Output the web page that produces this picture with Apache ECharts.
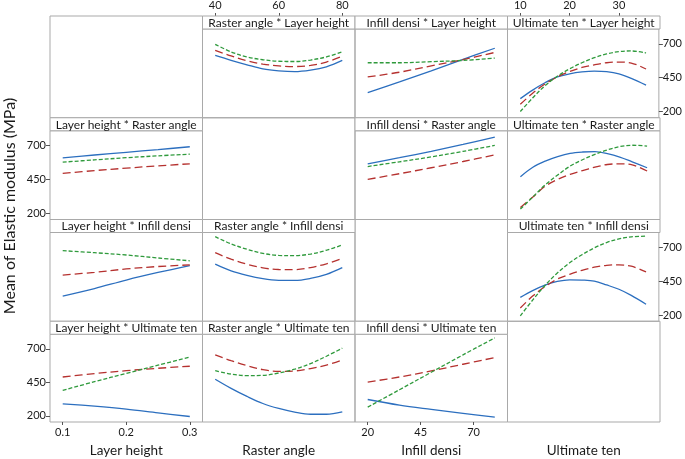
<!DOCTYPE html>
<html>
<head>
<meta charset="utf-8">
<script src="https://cdn.jsdelivr.net/npm/echarts@6/dist/echarts.min.js"></script>
<style>html,body{margin:0;padding:0;background:#fff;}#c{width:685px;height:459px;}</style>
</head>
<body>
<div id="c"></div>
<script>
// ---------- factors & ticks ----------
const factors = ['Layer height', 'Raster angle', 'Infill densi', 'Ultimate ten'];
const xRanges = [[0.08, 0.32], [36, 84], [14, 86], [7.4, 38.1]];
const xTickLayer = [0.1, 0.2, 0.3];
const xTickRaster = [40, 60, 80];
const xTickInfill = [20, 45, 70];
const xTickUlt = [10, 20, 30];
const yTicks = [200, 450, 700];
const yRange = [154, 809];

// ---------- x values of each factor ----------
const layerX = [0.1, 0.15, 0.2, 0.25, 0.3];
const rasterX = [40, 45, 50, 55, 60, 65, 70, 75, 80];
const infillX = [20, 35, 50, 65, 80];
const ultX = [10, 12.5, 15, 17.5, 20, 22.5, 25, 27.5, 30, 32.5, 35.5];

// ---------- row 1: trace = Layer height ----------
const rasLay1 = [614, 578, 545, 515, 500, 494, 505, 530, 577];
const rasLay2 = [652, 610, 575, 550, 537, 532, 540, 565, 609];
const rasLay3 = [696, 640, 603, 582, 571, 569, 580, 603, 640];
const infLay1 = [339, 418, 500, 585, 667];
const infLay2 = [455, 490, 537, 583, 636];
const infLay3 = [560, 560, 568, 577, 594];
const ultLay1 = [295, 358, 412, 455, 478, 492, 498, 494, 478, 445, 395];
const ultLay2 = [253, 335, 403, 455, 495, 525, 545, 560, 565, 558, 514];
const ultLay3 = [200, 300, 390, 460, 515, 560, 597, 625, 642, 647, 632];

// ---------- row 2: trace = Raster angle ----------
const layRas1 = [609, 630, 650, 670, 691];
const layRas2 = [494, 515, 533, 550, 565];
const layRas3 = [577, 594, 610, 624, 636];
const infRas1 = [565, 610, 657, 708, 762];
const infRas2 = [450, 492, 536, 582, 631];
const infRas3 = [545, 580, 616, 657, 701];
const ultRas1 = [470, 540, 585, 618, 642, 652, 655, 640, 615, 580, 536];
const ultRas2 = [243, 320, 400, 450, 487, 515, 540, 560, 565, 558, 512];
const ultRas3 = [231, 320, 410, 482, 548, 595, 635, 668, 692, 702, 696];

// ---------- row 3: trace = Infill densi ----------
const layInf1 = [340, 395, 458, 514, 565];
const layInf2 = [495, 515, 540, 558, 570];
const layInf3 = [675, 660, 643, 621, 600];
const rasInf1 = [575, 525, 492, 468, 456, 455, 470, 500, 550];
const rasInf2 = [660, 612, 575, 548, 536, 535, 550, 578, 617];
const rasInf3 = [778, 725, 685, 655, 640, 638, 650, 678, 717];
const ultInf1 = [330, 380, 420, 448, 460, 458, 450, 422, 390, 345, 280];
const ultInf2 = [252, 340, 410, 465, 500, 530, 553, 567, 570, 560, 518];
const ultInf3 = [194, 310, 418, 510, 585, 645, 695, 735, 762, 777, 782];

// ---------- row 4: trace = Ultimate ten ----------
const layUlt1 = [290, 272, 250, 222, 195];
const layUlt2 = [490, 515, 537, 555, 570];
const layUlt3 = [390, 455, 517, 578, 638];
const rasUlt1 = [473, 405, 345, 292, 255, 228, 212, 212, 230];
const rasUlt2 = [655, 612, 575, 545, 532, 535, 553, 578, 617];
const rasUlt3 = [537, 512, 500, 502, 520, 548, 590, 645, 705];
const infUlt1 = [322, 280, 248, 218, 190];
const infUlt2 = [452, 490, 535, 585, 635];
const infUlt3 = [265, 395, 525, 655, 782];

const xValues = [layerX, rasterX, infillX, ultX];
const xTicks = [xTickLayer, xTickRaster, xTickInfill, xTickUlt];
const panels = {
  '0,1': [rasLay1, rasLay2, rasLay3], '0,2': [infLay1, infLay2, infLay3], '0,3': [ultLay1, ultLay2, ultLay3],
  '1,0': [layRas1, layRas2, layRas3], '1,2': [infRas1, infRas2, infRas3], '1,3': [ultRas1, ultRas2, ultRas3],
  '2,0': [layInf1, layInf2, layInf3], '2,1': [rasInf1, rasInf2, rasInf3], '2,3': [ultInf1, ultInf2, ultInf3],
  '3,0': [layUlt1, layUlt2, layUlt3], '3,1': [rasUlt1, rasUlt2, rasUlt3], '3,2': [infUlt1, infUlt2, infUlt3]
};

// ---------- layout / style ----------
const L = 50, T = 16, W = 152.5, H = 101.75, HDR = 13;
const FRAME = '#a9a9a9';
const TXT = '#1a1a1a';
const FONT = 'Lato';
const lineColors = ['#2c6fbf', '#b5312f', '#2f9a3c'];
const lineDash = ['solid', [8, 4], [4, 2]];

const grids = [], xAxes = [], yAxes = [], series = [], graphics = [];
let gi = 0;
for (let i = 0; i < 4; i++) {
  for (let j = 0; j < 4; j++) {
    const diag = i === j;
    grids.push({
      left: L + j * W, top: T + i * H + (diag ? 0 : HDR),
      width: W, height: H - (diag ? 0 : HDR),
      show: true, borderColor: FRAME, borderWidth: 1, backgroundColor: 'transparent', containLabel: false
    });
    const topLab = (i === 0 && (j === 1 || j === 3));
    const botLab = (i === 3 && (j === 0 || j === 2));
    const showX = topLab || botLab;
    xAxes.push({
      gridIndex: gi, type: 'value', min: xRanges[j][0], max: xRanges[j][1],
      position: topLab ? 'top' : 'bottom', offset: topLab ? HDR : 0,
      axisLine: { show: false },
      axisTick: { show: showX, length: 3, lineStyle: { color: '#555' }, customValues: xTicks[j] },
      axisLabel: { show: showX, customValues: xTicks[j], fontFamily: FONT, fontSize: 11, color: TXT, margin: 5 },
      splitLine: { show: false },
      name: i === 3 ? factors[j] : '', nameLocation: 'middle', nameGap: 22,
      nameTextStyle: { fontFamily: FONT, fontSize: 13.5, color: TXT }
    });
    const leftLab = (j === 0 && (i === 1 || i === 3));
    const rightLab = (j === 3 && (i === 0 || i === 2));
    const showY = leftLab || rightLab;
    yAxes.push({
      gridIndex: gi, type: 'value', min: yRange[0], max: yRange[1],
      position: rightLab ? 'right' : 'left',
      axisLine: { show: false },
      axisTick: { show: showY, length: 4, lineStyle: { color: '#555' }, customValues: yTicks },
      axisLabel: { show: showY, customValues: yTicks, fontFamily: FONT, fontSize: 11, color: TXT, margin: 4 },
      splitLine: { show: false }
    });
    if (!diag) {
      graphics.push({
        type: 'rect', shape: { x: L + j * W, y: T + i * H, width: W, height: HDR },
        style: { fill: '#fff', stroke: FRAME, lineWidth: 1 }, z: 10
      });
      graphics.push({
        type: 'text', x: L + j * W + W / 2, y: T + i * H + HDR / 2 + 0.5,
        style: { text: factors[j] + ' * ' + factors[i], fontFamily: FONT, fontSize: 12, fill: TXT, align: 'center', verticalAlign: 'middle' }, z: 11
      });
      const sets = panels[i + ',' + j];
      sets.forEach((arr, k) => {
        series.push({
          type: 'line', xAxisIndex: gi, yAxisIndex: gi, smooth: 0.35, symbol: 'none',
          lineStyle: { color: lineColors[k], width: 1.3, type: lineDash[k] },
          data: xValues[j].map((x, n) => [x, arr[n]]),
          silent: true, animation: false
        });
      });
    }
    gi++;
  }
}
graphics.push({
  type: 'text', x: 10, y: 206, rotation: Math.PI / 2,
  style: { text: 'Mean of Elastic modulus (MPa)', fontFamily: FONT, fontSize: 16, fill: TXT, align: 'center', verticalAlign: 'middle' }
});

const chart = echarts.init(document.getElementById('c'), null, { renderer: 'canvas' });
chart.setOption({
  animation: false,
  backgroundColor: '#fff',
  grid: grids, xAxis: xAxes, yAxis: yAxes, series: series, graphic: graphics
});
</script>
</body>
</html>
